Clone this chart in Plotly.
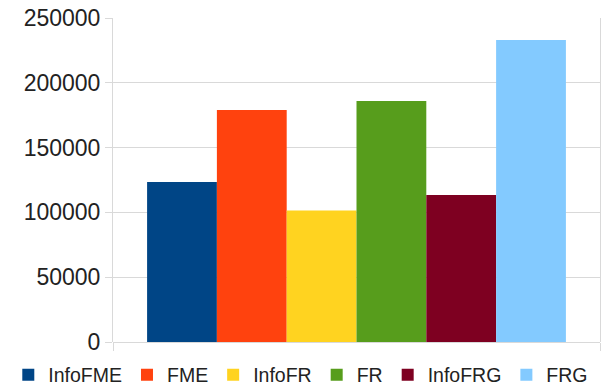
import plotly.graph_objects as go

# Series names, values and fill colours (one bar per series)
series_names = ["InfoFME", "FME", "InfoFR", "FR", "InfoFRG", "FRG"]
series_values = [123500, 179000, 101500, 186000, 113500, 233000]
series_colors = ["#004586", "#ff420e", "#ffd320", "#579d1c", "#7e0021", "#83caff"]
category = ["Total"]
y_ticks = [0, 50000, 100000, 150000, 200000, 250000]

FONT = "Liberation Sans, Arial, sans-serif"
GRID = "#d9d9d9"
TEXT = "#222222"

fig = go.Figure()
for name, val, col in zip(series_names, series_values, series_colors):
    fig.add_trace(go.Bar(
        x=category, y=[val], name=name,
        marker=dict(color=col, line=dict(width=0)),
    ))

fig.update_layout(
    width=603, height=389,
    margin=dict(l=113, r=3, t=18, b=47, autoexpand=False),
    paper_bgcolor="white", plot_bgcolor="white",
    barmode="group", bargap=0.14, bargroupgap=0,
    font=dict(family=FONT, color=TEXT),
    showlegend=True,
    legend=dict(
        orientation="h",
        x=-0.215, xanchor="left",
        y=-0.042, yanchor="top",
        font=dict(family=FONT, size=19.5, color=TEXT),
        itemwidth=30, tracegroupgap=0,
        bgcolor="rgba(0,0,0,0)",
    ),
)

fig.update_xaxes(
    showticklabels=False, tickson="boundaries",
    ticks="outside", ticklen=8, tickcolor=GRID,
    showgrid=True, gridcolor=GRID, gridwidth=1,
    showline=False, zeroline=False,
)
fig.update_yaxes(
    range=[0, 250000], tickvals=y_ticks, tickformat="d",
    ticks="outside", ticklen=7, tickcolor=GRID,
    tickfont=dict(family=FONT, size=23, color=TEXT),
    showgrid=True, gridcolor=GRID, gridwidth=1,
    zeroline=True, zerolinecolor=GRID, zerolinewidth=1,
    showline=True, linecolor=GRID, linewidth=1, mirror=True,
)

fig.write_html("out.html")
